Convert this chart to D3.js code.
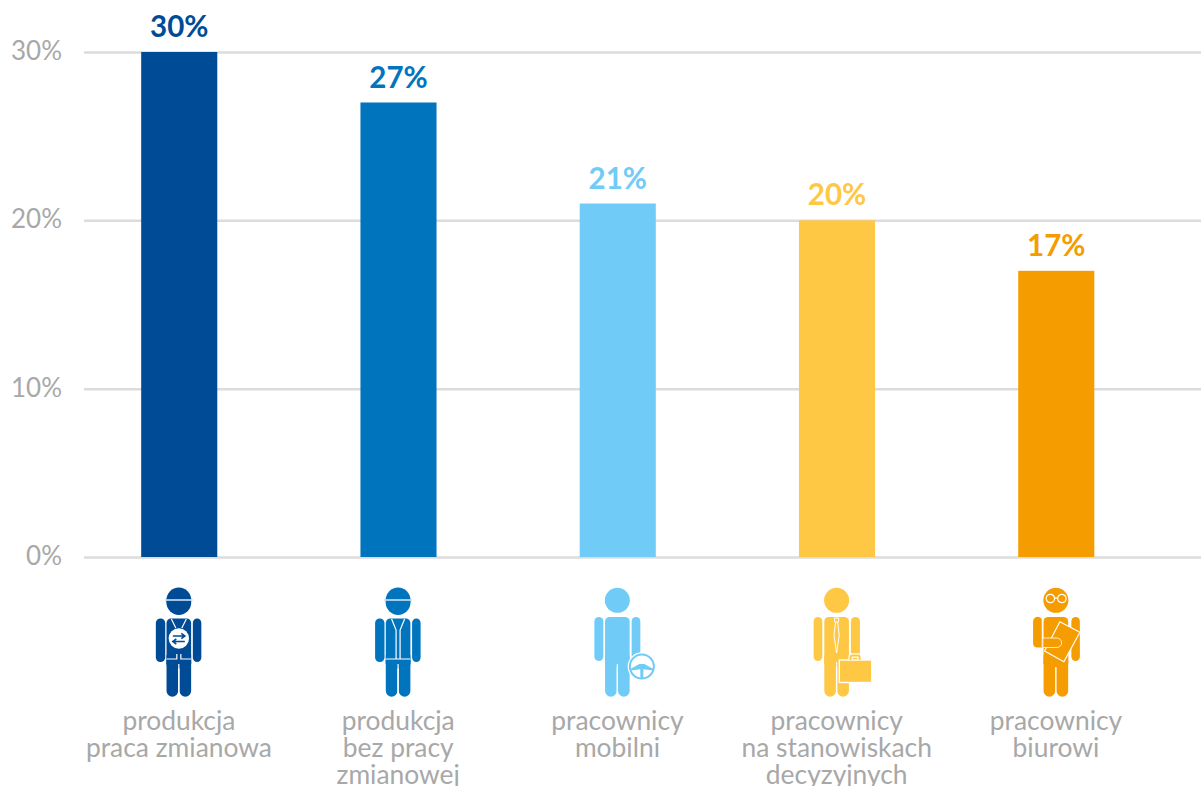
<!DOCTYPE html>
<html>
<head>
<meta charset="utf-8">
<script src="https://cdn.jsdelivr.net/npm/d3@7/dist/d3.min.js"></script>
<style>
  html, body { margin: 0; background: #fff; overflow: hidden; }
  svg { display: block; font-family: Lato, sans-serif; }
</style>
</head>
<body>
<svg id="chart" width="1201" height="786"></svg>
<script>
// Share of each employee group, in percent
const groups = ["produkcja-zmianowa", "produkcja-bez", "mobilni", "decyzyjni", "biurowi"];
const shares = [30, 27, 21, 20, 17];
const colours = ["#004b96", "#0075be", "#70cbf7", "#fec744", "#f59c00"];
const categoryLines = [
  ["produkcja", "praca zmianowa"],
  ["produkcja", "bez pracy", "zmianowej"],
  ["pracownicy", "mobilni"],
  ["pracownicy", "na stanowiskach", "decyzyjnych"],
  ["pracownicy", "biurowi"]
];
const yTicks = [0, 10, 20, 30];

const svg = d3.select("#chart");
const x = d3.scaleBand().domain(groups).range([69.6, 1165.9]).paddingInner(0.653).paddingOuter(0.3265);
const y = d3.scaleLinear().domain([0, 30]).range([557, 52]);

// Horizontal grid and percent labels
const axis = svg.append("g")
  .attr("transform", "translate(84,0)")
  .call(d3.axisLeft(y).tickValues(yTicks).tickSize(-1117).tickPadding(22).tickFormat(d => d + "%"));
axis.select(".domain").remove();
axis.selectAll(".tick line").attr("stroke", "#dcdcdc").attr("stroke-width", 2.5);
axis.selectAll(".tick text")
  .attr("fill", "#a8a8a8").attr("font-size", 26).attr("font-weight", 400)
  .attr("font-family", "Lato, sans-serif").attr("dy", "0.29em");

// Bars
svg.append("g").selectAll("rect").data(groups).join("rect")
  .attr("x", d => x(d)).attr("width", x.bandwidth())
  .attr("y", (d, i) => y(shares[i])).attr("height", (d, i) => y(0) - y(shares[i]))
  .attr("fill", (d, i) => colours[i]);

// Value labels above the bars
svg.append("g").selectAll("text").data(groups).join("text")
  .attr("x", d => x(d) + x.bandwidth() / 2)
  .attr("y", (d, i) => y(shares[i]) - 15)
  .attr("text-anchor", "middle")
  .attr("font-size", 29.5).attr("font-weight", 700)
  .attr("fill", (d, i) => colours[i])
  .text((d, i) => shares[i] + "%");

// Category captions
const captions = svg.append("g").selectAll("text").data(groups).join("text")
  .attr("text-anchor", "middle").attr("font-size", 26.4).attr("fill", "#a8a8a8");
captions.selectAll("tspan").data((d, i) => categoryLines[i].map(t => ({ t, cx: x(d) + x.bandwidth() / 2 - 0.3 })))
  .join("tspan")
  .attr("x", d => d.cx)
  .attr("y", (d, i) => 729.5 + i * 27.2)
  .text(d => d.t);

// Pictograms: every figure shares a body, then gets its own attribute
function rr(g, x0, y0, w, h, r, fill) {
  return g.append("rect").attr("x", x0).attr("y", y0).attr("width", w).attr("height", h)
    .attr("rx", r).attr("ry", r).attr("fill", fill);
}

function body(g, c, top, armL, armR, armBottom) {
  // arms
  if (armL) rr(g, armL[0], top, armL[1] - armL[0], armBottom - top, 4.6, c);
  rr(g, armR[0], top, armR[1] - armR[0], armBottom - top, 4.6, c);
  // torso and legs
  rr(g, -12.3, top, 24.6, 50, 4.5, c);
  rr(g, -12.3, 80, 11.6, 41.7, 5.8, c);
  rr(g, 0.7, 80, 11.6, 41.7, 5.8, c);
  g.append("rect").attr("x", -12.3).attr("y", 80).attr("width", 24.6).attr("height", 9).attr("fill", c);
}

function white(g, w) {
  return g.append("path").attr("fill", "none").attr("stroke", "#fff").attr("stroke-width", w || 1.2);
}

function helmetHead(g, c) {
  g.append("circle").attr("cx", 0).attr("cy", 27.5).attr("r", 12.4).attr("fill", c);
  g.append("circle").attr("cx", 0).attr("cy", 25).attr("r", 12.4).attr("fill", c);
  g.append("line").attr("x1", -14).attr("x2", 14).attr("y1", 25).attr("y2", 25)
    .attr("stroke", "#cfe0f0").attr("stroke-width", 1.6);
}

function plainHead(g, c) {
  g.append("circle").attr("cx", 0).attr("cy", 25.3).attr("r", 12.5).attr("fill", c);
}

const drawIcon = [
  // shift worker: hard hat, vest and a badge with swap arrows
  (g, c) => {
    helmetHead(g, c);
    body(g, c, 43.5, [-23, -13.6], [14, 22.5], 87);
    white(g).attr("d", "M-7.5,44 L-3,53 M7.5,44 L3,53 M-12.3,84 H-2 V79 M12.3,84 H2 V79 M0,89 V121");
    g.append("circle").attr("cx", 0).attr("cy", 63.5).attr("r", 10.2).attr("fill", "#fff");
    g.append("path").attr("fill", "none").attr("stroke", c).attr("stroke-width", 1.6)
      .attr("d", "M-6,61 H5 M2.5,58.4 L6,61 L2.5,63.6 M6,66.5 H-5 M-2.5,63.9 L-6,66.5 L-2.5,69.1");
  },
  // production worker without shifts: hard hat and vest
  (g, c) => {
    helmetHead(g, c);
    body(g, c, 43.5, [-23, -13.6], [14, 22.5], 87);
    white(g).attr("d", "M-6.5,44 L-2,55 V84 M6.5,44 L2,55 V84 M-12.3,84 H12.3 M0,89 V121");
  },
  // mobile worker: steering wheel at the hand
  (g, c) => {
    plainHead(g, c);
    body(g, c, 42, [-23, -14], [14.3, 23], 86);
    white(g).attr("d", "M0,89 V121");
    const wheel = g.append("g").attr("transform", "translate(24.5,91.5)");
    wheel.append("circle").attr("r", 14.2).attr("fill", "#fff");
    wheel.append("circle").attr("r", 12).attr("fill", "none").attr("stroke", c).attr("stroke-width", 2);
    // hub with three slim spokes to the rim
    wheel.append("path").attr("fill", c)
      .attr("d", "M-11.5,2.4 L-2.5,-2.6 H2.5 L11.5,2.4 L11,4 L1.6,2.8 L1.4,11.5 H-1.4 L-1.6,2.8 L-11,4 Z");
  },
  // decision maker: necktie and briefcase
  (g, c) => {
    plainHead(g, c);
    body(g, c, 42, [-23, -14.3], [14.3, 23.3], 86);
    white(g, 1).attr("d", "M-2,43 H2 V47 H-2 Z M-1,47 L-2.6,60 L0,78 L2.6,60 L1,47");
    white(g, 1).attr("d", "M0,87 V121");
    g.append("rect").attr("x", 2.7).attr("y", 85).attr("width", 32.5).attr("height", 22.5)
      .attr("fill", c).attr("stroke", "#fff").attr("stroke-width", 1.4);
    g.append("path").attr("fill", "none").attr("stroke", "#fff").attr("stroke-width", 4.4)
      .attr("d", "M14,85 V82 Q14,80.5 15.5,80.5 H21.5 Q23,80.5 23,82 V85");
    g.append("path").attr("fill", "none").attr("stroke", c).attr("stroke-width", 2)
      .attr("d", "M14,85 V82 Q14,80.5 15.5,80.5 H21.5 Q23,80.5 23,82 V85");
  },
  // office worker: glasses, bent arm and a sheet of paper
  (g, c) => {
    plainHead(g, c);
    body(g, c, 42, null, [15.5, 24], 86);
    g.append("path").attr("fill", c)
      .attr("d", "M-17,42 A4.6,4.6 0 0 1 -13.6,46 L-13.6,63 H0 A4.7,4.7 0 0 1 0,72.5 H-18 Q-22.8,72.5 -22.8,68 V46.5 A4.6,4.6 0 0 1 -17,42 Z");
    g.append("path").attr("d", "M-13.6,42 V72").attr("stroke", "#fff").attr("stroke-width", 1);
    g.append("path").attr("fill", c).attr("stroke", "#fff").attr("stroke-width", 1.2)
      .attr("d", "M4,46.7 L24,57.3 L8,86.7 L-11.3,76 Z");
    g.append("path").attr("fill", c)
      .attr("d", "M-13,63 H1 A4.7,4.7 0 0 1 1,72.5 H-13 Z")
      .attr("stroke", "#fff").attr("stroke-width", 0.8);
    const specs = g.append("g").attr("fill", "none").attr("stroke", "#fff").attr("stroke-width", 1.2);
    specs.append("circle").attr("cx", -5.5).attr("cy", 23.5).attr("r", 4.2);
    specs.append("circle").attr("cx", 6).attr("cy", 23.5).attr("r", 4.2);
    specs.append("path").attr("d", "M-1.3,23 H1.8");
  }
];

groups.forEach((d, i) => {
  const g = svg.append("g")
    .attr("transform", `translate(${x(d) + x.bandwidth() / 2 - 0.4},575)`);
  drawIcon[i](g, colours[i]);
});
</script>
</body>
</html>
